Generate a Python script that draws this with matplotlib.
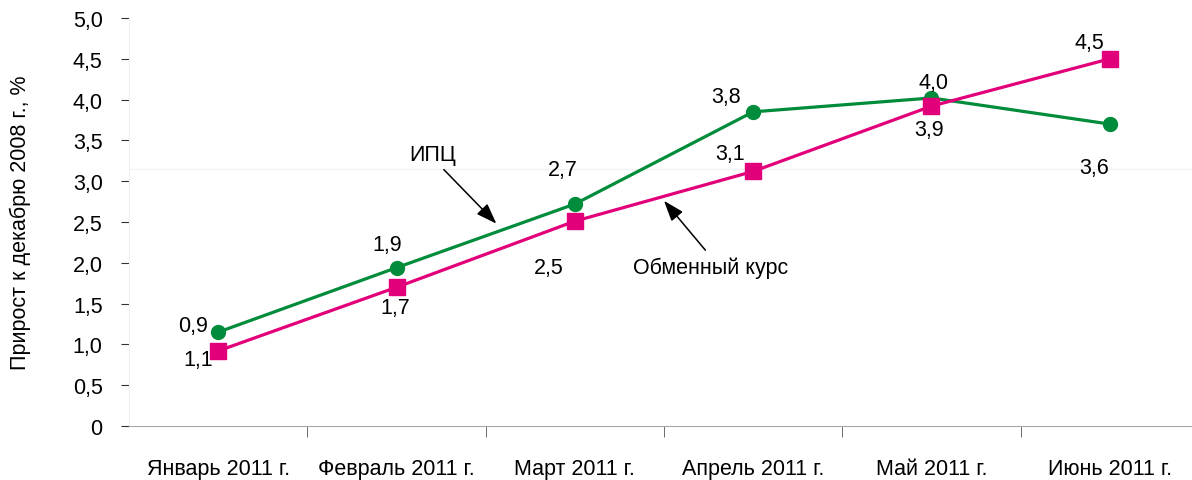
import matplotlib
matplotlib.use("Agg")
import matplotlib.pyplot as plt
from matplotlib.ticker import FixedLocator

plt.rcParams['font.family'] = ['Liberation Sans', 'DejaVu Sans']

months = ["Январь 2011 г.", "Февраль 2011 г.", "Март 2011 г.",
          "Апрель 2011 г.", "Май 2011 г.", "Июнь 2011 г."]
cpi = [1.15, 1.94, 2.72, 3.85, 4.02, 3.70]
fx = [0.92, 1.70, 2.51, 3.12, 3.92, 4.50]
cpi_labels = ["0,9", "1,9", "2,7", "3,8", "4,0", "3,6"]
fx_labels = ["1,1", "1,7", "2,5", "3,1", "3,9", "4,5"]
yticks = [0, 0.5, 1.0, 1.5, 2.0, 2.5, 3.0, 3.5, 4.0, 4.5, 5.0]

GREEN = "#008c3a"
PINK = "#e2007a"
FS = 15.5

fig = plt.figure(figsize=(11.92, 4.81), dpi=100)
W, H = 1192, 481
ax = fig.add_axes([129 / W, 1 - 427 / H, (1199 - 129) / W, (427 - 19) / H])

x = list(range(len(months)))
ax.plot(x, cpi, "-o", color=GREEN, lw=2.3, ms=10, zorder=3, clip_on=False)
ax.plot(x, fx, "-s", color=PINK, lw=2.3, ms=11, zorder=4, clip_on=False)

# value labels (offsets in points)
cpi_off = [(-18, 5), (-6.5, 16.5), (-9, 25), (-19.5, 11), (1.5, 11), (-11.5, -31)]
fx_off = [(-14.5, -6), (-1, -14.5), (-19, -33), (-16.5, 13), (-2, -16.5), (-15, 12)]
for i in x:
    ax.annotate(cpi_labels[i], (i, cpi[i]), xytext=cpi_off[i], textcoords="offset points",
                ha="center", va="center", fontsize=FS)
    ax.annotate(fx_labels[i], (i, fx[i]), xytext=fx_off[i], textcoords="offset points",
                ha="center", va="center", fontsize=FS)

# series captions with arrows
ax.annotate("ИПЦ", xy=(1.56, 2.48), xytext=(1.2, 3.33), fontsize=FS, ha="center", va="center",
            arrowprops=dict(arrowstyle="-|>,head_length=0.7,head_width=0.25", color="black",
                            lw=1.1, mutation_scale=18, relpos=(0.65, 0.0),
                            shrinkA=2, shrinkB=0))
ax.annotate("Обменный курс", xy=(2.5, 2.76), xytext=(2.76, 1.95), fontsize=FS, ha="center",
            va="center",
            arrowprops=dict(arrowstyle="-|>,head_length=0.7,head_width=0.25", color="black",
                            lw=1.1, mutation_scale=18, relpos=(0.5, 1.0),
                            shrinkA=3, shrinkB=0))

# faint artefact line
ax.axhline(3.15, color="#f2f2f2", lw=1, zorder=0)

ax.set_xlim(-0.5, 5.5)
ax.set_ylim(0, 5)
ax.set_xticks(x)
ax.set_xticklabels(months, fontsize=FS)
ax.xaxis.set_minor_locator(FixedLocator([0.5, 1.5, 2.5, 3.5, 4.5]))
ax.tick_params(axis="x", which="major", length=0, pad=23)
ax.tick_params(axis="x", which="minor", length=8, color="#555555", direction="out")
ax.set_yticks(yticks)
ax.set_yticklabels(["0"] + [f"{v:.1f}".replace(".", ",") for v in yticks[1:]], fontsize=FS)
ax.tick_params(axis="y", length=6, color="#333333", pad=13)

for s in ["top", "right"]:
    ax.spines[s].set_visible(False)
ax.spines["left"].set_color("#f0f0f0")
ax.spines["bottom"].set_color("#a6a6a6")

ax.set_ylabel("Прирост к декабрю 2008 г., %", fontsize=FS, labelpad=30)

fig.savefig("out.png", dpi=100)
